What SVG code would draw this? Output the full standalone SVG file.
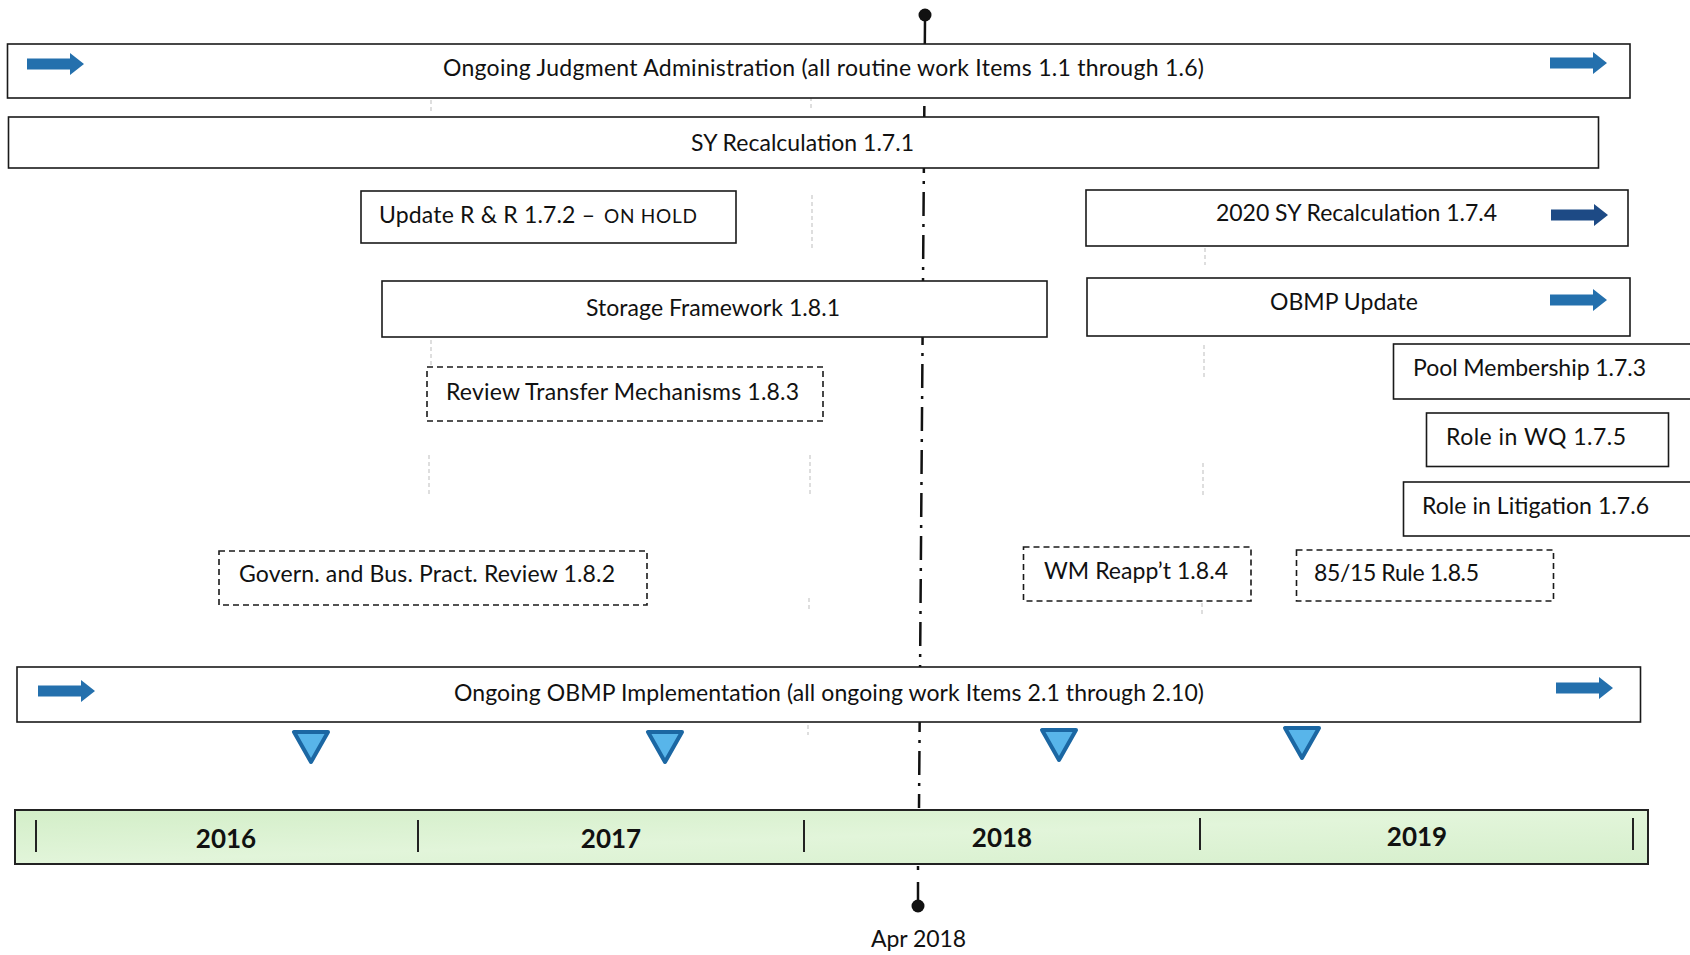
<svg xmlns="http://www.w3.org/2000/svg" width="1690" height="955" viewBox="0 0 1690 955">
<style>
.box{fill:#fff;stroke:#1a1a1a;stroke-width:1.6}
.dbox{fill:#fff;stroke:#1a1a1a;stroke-width:1.6;stroke-dasharray:6 4}
.t{font-family:Lato,"Open Sans","DejaVu Sans",sans-serif;font-size:23px;fill:#111}
.yr{font-family:Lato,"Liberation Sans",sans-serif;font-size:26px;font-weight:bold;fill:#111;text-anchor:middle}
.grid{stroke:#d4d4d4;stroke-width:1.5;stroke-dasharray:4 3}
.tick{stroke:#222;stroke-width:2}
.ms{fill:#58b5ea;stroke:#1b67a3;stroke-width:4;stroke-linejoin:round}
</style>
<defs>
<linearGradient id="bar" x1="0" y1="0" x2="1" y2="1">
<stop offset="0" stop-color="#d3eec8"/>
<stop offset="0.5" stop-color="#e2f5da"/>
<stop offset="1" stop-color="#d6efcc"/>
</linearGradient>
<path id="arr" d="M0,-5.5 H43 V-11 L57,0 L43,11 V5.5 H0 Z"/>
<path id="tri" d="M-17,0 H17 L0,30 Z"/>
</defs>

<g id="connectors">
<line x1="925" y1="20" x2="919" y2="808" stroke="#111" stroke-width="2.5" stroke-dasharray="24 8 3 8"/>
<line x1="918" y1="866" x2="918" y2="870" stroke="#111" stroke-width="2.5"/>
<line x1="918" y1="882" x2="918" y2="902" stroke="#111" stroke-width="2.5"/>
<circle cx="925" cy="15" r="6.5" fill="#111"/>
<circle cx="918" cy="906" r="6.5" fill="#111"/>
<g id="gridlines">
<line class="grid" x1="431" y1="100" x2="431" y2="113"/>
<line class="grid" x1="431" y1="340" x2="431" y2="365"/>
<line class="grid" x1="429" y1="455" x2="429" y2="495"/>
<line class="grid" x1="811" y1="97" x2="811" y2="108"/>
<line class="grid" x1="812" y1="195" x2="812" y2="250"/>
<line class="grid" x1="810" y1="455" x2="810" y2="495"/>
<line class="grid" x1="809" y1="598" x2="809" y2="610"/>
<line class="grid" x1="808" y1="725" x2="808" y2="735"/>
<line class="grid" x1="1205" y1="248" x2="1205" y2="265"/>
<line class="grid" x1="1204" y1="345" x2="1204" y2="378"/>
<line class="grid" x1="1203" y1="463" x2="1203" y2="495"/>
<line class="grid" x1="1202" y1="603" x2="1202" y2="615"/>
</g>
</g>

<g id="n-judgment">
<rect class="box" x="7.5" y="44" width="1622.5" height="54"/>
<use href="#arr" x="27" y="64" fill="#2470ad"/>
<use href="#arr" x="1550" y="63" fill="#2470ad"/>
<text class="t" x="443" y="76" textLength="761">Ongoing Judgment Administration (all routine work Items 1.1 through 1.6)</text>
</g>

<g id="n-sy">
<rect class="box" x="8.5" y="117" width="1590" height="51"/>
<text class="t" x="691" y="151" textLength="223">SY Recalculation 1.7.1</text>
</g>

<g id="n-update-rr">
<rect class="box" x="361" y="191" width="375" height="52"/>
<text class="t" x="379" y="223" textLength="216">Update R &amp; R 1.7.2 –</text>
<text class="t" x="604" y="223" style="font-size:19px" textLength="93">ON HOLD</text>
</g>

<g id="n-sy2020">
<rect class="box" x="1086" y="190" width="542" height="56"/>
<text class="t" x="1216" y="221" textLength="281">2020 SY Recalculation 1.7.4</text>
<use href="#arr" x="1551" y="215" fill="#1d4a85"/>
</g>

<g id="n-storage">
<rect class="box" x="382" y="281" width="665" height="56"/>
<text class="t" x="586" y="316" textLength="254">Storage Framework 1.8.1</text>
</g>

<g id="n-obmp-update">
<rect class="box" x="1087" y="278" width="543" height="58"/>
<text class="t" x="1270" y="310" textLength="148">OBMP Update</text>
<use href="#arr" x="1550" y="300" fill="#2470ad"/>
</g>

<g id="n-pool">
<rect class="box" x="1393.5" y="344" width="310" height="55"/>
<text class="t" x="1413" y="376" textLength="233">Pool Membership 1.7.3</text>
</g>

<g id="n-wq">
<rect class="box" x="1426.5" y="413" width="242" height="53.5"/>
<text class="t" x="1446" y="445" textLength="180">Role in WQ 1.7.5</text>
</g>

<g id="n-litigation">
<rect class="box" x="1403.5" y="482" width="300" height="54"/>
<text class="t" x="1422" y="514" textLength="227">Role in Litigation 1.7.6</text>
</g>

<g id="n-review-transfer">
<rect class="dbox" x="427" y="367" width="396" height="54"/>
<text class="t" x="446" y="400" textLength="353">Review Transfer Mechanisms 1.8.3</text>
</g>

<g id="n-govern">
<rect class="dbox" x="219" y="551" width="428" height="54"/>
<text class="t" x="239" y="582" textLength="376">Govern. and Bus. Pract. Review 1.8.2</text>
</g>

<g id="n-wm">
<rect class="dbox" x="1023.5" y="547" width="227.5" height="54"/>
<text class="t" x="1044" y="579" textLength="184">WM Reapp’t 1.8.4</text>
</g>

<g id="n-8515">
<rect class="dbox" x="1296.5" y="550" width="257" height="51"/>
<text class="t" x="1314" y="581" textLength="165">85/15 Rule 1.8.5</text>
</g>

<g id="n-obmp-impl">
<rect class="box" x="17" y="667" width="1623.5" height="55"/>
<use href="#arr" x="38" y="691" fill="#2470ad"/>
<use href="#arr" x="1556" y="688" fill="#2470ad"/>
<text class="t" x="454" y="701" textLength="750">Ongoing OBMP Implementation (all ongoing work Items 2.1 through 2.10)</text>
</g>

<g id="milestones">
<use href="#tri" class="ms" x="311" y="732"/>
<use href="#tri" class="ms" x="665" y="732"/>
<use href="#tri" class="ms" x="1059" y="730"/>
<use href="#tri" class="ms" x="1302" y="728"/>
</g>

<g id="n-timeline">
<rect x="15" y="810" width="1633" height="54" fill="url(#bar)" stroke="#222" stroke-width="2"/>
<line class="tick" x1="36" y1="820" x2="36" y2="852"/>
<line class="tick" x1="418" y1="820" x2="418" y2="852"/>
<line class="tick" x1="804" y1="820" x2="804" y2="852"/>
<line class="tick" x1="1200" y1="818" x2="1200" y2="850"/>
<line class="tick" x1="1633" y1="818" x2="1633" y2="850"/>
<text class="yr" x="226" y="848">2016</text>
<text class="yr" x="611" y="848">2017</text>
<text class="yr" x="1002" y="847">2018</text>
<text class="yr" x="1417" y="846">2019</text>
</g>

<g id="n-apr">
<text class="t" x="871" y="947" textLength="95">Apr 2018</text>
</g>
</svg>
